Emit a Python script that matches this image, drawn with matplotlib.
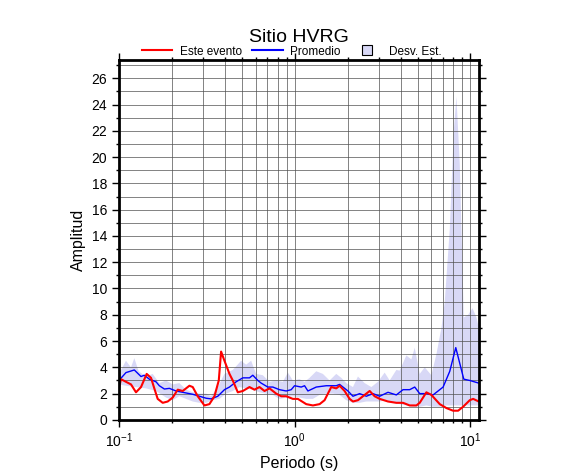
import matplotlib
matplotlib.use("Agg")
import matplotlib.pyplot as plt
from matplotlib.lines import Line2D
from matplotlib.ticker import LogLocator, MultipleLocator, NullFormatter

plt.rcParams['font.family'] = ['Liberation Sans', 'DejaVu Sans']

# Promedio (azul)
t_prom = [0.100, 0.1096, 0.1223, 0.1335, 0.1394, 0.1489, 0.1625, 0.1697, 0.1813, 0.1936,
          0.2112, 0.2306, 0.2517, 0.2629, 0.2870, 0.3132, 0.3344, 0.3650, 0.3984, 0.4254,
          0.4642, 0.5067, 0.5530, 0.5776, 0.6168, 0.6444, 0.7033, 0.7509, 0.8196, 0.8946,
          0.9552, 0.998, 1.089, 1.138, 1.189, 1.326, 1.512, 1.724, 1.801, 1.882,
          2.009, 2.145, 2.341, 2.555, 2.789, 3.044, 3.396, 3.788, 4.133, 4.511,
          4.818, 5.144, 5.614, 6.128, 6.989, 7.626, 8.250, 9.163, 9.913, 11.15]
a_prom = [3.0, 3.6, 3.8, 3.3, 3.4, 3.1, 2.9, 2.6, 2.35, 2.4,
          2.2, 2.1, 2.0, 1.95, 1.8, 1.65, 1.6, 1.8, 2.3, 2.5,
          2.9, 3.2, 3.2, 3.4, 3.0, 2.8, 2.5, 2.5, 2.3, 2.2,
          2.3, 2.6, 2.5, 2.6, 2.2, 2.5, 2.6, 2.6, 2.7, 2.5,
          2.2, 1.8, 2.0, 1.8, 2.0, 1.8, 2.1, 1.9, 2.3, 2.3,
          2.5, 2.0, 2.0, 1.9, 2.5, 3.7, 5.5, 3.1, 3.0, 2.8]

# Este evento (rojo)
t_evento = [0.100, 0.1026, 0.1096, 0.1171, 0.1250, 0.1335, 0.1438, 0.1522, 0.1589, 0.1661,
            0.1774, 0.1894, 0.2022, 0.2160, 0.2306, 0.2517, 0.2629, 0.2807, 0.3064, 0.3271,
            0.3494, 0.3698, 0.3812, 0.3984, 0.4254, 0.4443, 0.4745, 0.5067, 0.5530, 0.5904,
            0.6304, 0.6732, 0.7188, 0.7848, 0.8380, 0.8946, 0.976, 1.042, 1.163, 1.269,
            1.386, 1.479, 1.545, 1.614, 1.724, 1.801, 1.923, 2.053, 2.145, 2.290,
            2.445, 2.670, 2.850, 3.044, 3.396, 3.788, 4.133, 4.511, 4.925, 5.144,
            5.614, 5.995, 6.688, 7.299, 7.965, 8.508, 9.083, 9.913, 10.36, 11.15]
a_evento = [2.4, 3.1, 2.9, 2.7, 2.1, 2.5, 3.5, 3.2, 2.4, 1.6,
            1.3, 1.4, 1.7, 2.3, 2.2, 2.6, 2.5, 1.8, 1.1, 1.2,
            1.8, 3.0, 5.2, 4.5, 3.5, 3.0, 2.1, 2.2, 2.5, 2.3,
            2.5, 2.2, 2.4, 2.0, 1.8, 1.8, 1.6, 1.6, 1.2, 1.1,
            1.2, 1.5, 2.0, 2.5, 2.4, 2.6, 2.2, 1.6, 1.4, 1.5,
            1.8, 2.2, 1.8, 1.6, 1.4, 1.3, 1.3, 1.1, 1.1, 1.3,
            2.1, 1.9, 1.2, 0.9, 0.7, 0.7, 1.0, 1.5, 1.6, 1.4]

# Desviacion estandar: borde superior
t_sup = [0.100, 0.1096, 0.1171, 0.1223, 0.1295, 0.1425, 0.1555, 0.1697, 0.1853, 0.2022,
         0.2207, 0.2409, 0.2629, 0.2870, 0.3132, 0.3344, 0.3650, 0.3984, 0.4443, 0.4957,
         0.5292, 0.5651, 0.6033, 0.6585, 0.7188, 0.7848, 0.8564, 0.9144, 0.976, 1.065,
         1.138, 1.215, 1.326, 1.447, 1.579, 1.724, 1.841, 1.965, 2.145, 2.290,
         2.500, 2.729, 2.978, 3.250, 3.471, 3.788, 3.956, 4.318, 4.611, 4.818,
         5.144, 5.493, 5.995, 6.403, 6.837, 7.142, 7.626, 8.035, 8.322, 8.693,
         9.163, 9.699, 10.27, 10.82, 11.15]
a_sup = [3.5, 4.5, 4.0, 4.7, 3.7, 3.3, 3.5, 2.8, 3.0, 2.7,
         2.8, 2.3, 2.1, 2.0, 2.0, 1.8, 2.5, 3.5, 3.8, 4.5,
         4.2, 4.5, 3.5, 3.4, 2.9, 3.0, 2.9, 3.6, 3.0, 3.1,
         2.9, 3.2, 3.7, 3.5, 3.0, 3.5, 3.2, 2.8, 2.5, 3.3,
         2.8, 2.5, 2.9, 3.6, 3.0, 3.8, 3.75, 4.9, 4.6, 5.5,
         3.5, 4.0, 3.4, 5.0, 7.0, 9.0, 14.5, 22.0, 24.6, 19.5,
         7.8, 8.0, 8.5, 7.8, 7.0]

# Desviacion estandar: borde inferior
t_inf = [0.100, 0.1096, 0.1250, 0.1425, 0.1625, 0.1853, 0.2022, 0.2207, 0.2409, 0.2629,
         0.2870, 0.3132, 0.3418, 0.3730, 0.4072, 0.4443, 0.4850, 0.5292, 0.5776, 0.6304,
         0.6880, 0.7509, 0.8196, 0.8946, 0.976, 1.065, 1.163, 1.269, 1.386, 1.512,
         1.650, 1.801, 1.965, 2.145, 2.341, 2.555, 2.789, 3.044, 3.322, 3.626,
         3.956, 4.318, 4.713, 5.144, 5.614, 6.128, 6.688, 7.299, 7.965, 8.693,
         9.913, 11.15]
a_inf = [2.7, 2.6, 2.5, 2.4, 2.2, 1.7, 1.5, 1.8, 1.6, 1.4,
         1.3, 1.3, 1.5, 1.6, 2.0, 2.2, 2.5, 2.4, 2.3, 2.1,
         2.0, 1.9, 1.6, 1.7, 1.8, 1.7, 1.6, 1.6, 1.9, 2.0,
         2.0, 1.9, 1.5, 1.3, 1.3, 1.4, 1.4, 1.4, 1.5, 1.3,
         1.2, 1.1, 1.0, 1.0, 1.1, 1.0, 1.0, 1.1, 1.1, 1.1,
         1.1, 1.1]

banda = '#d8d8f6'

fig = plt.figure(figsize=(5.86, 4.75), dpi=100)
ax = fig.add_axes([0.203, 0.116, 0.614, 0.758])

ax.fill(t_sup + t_inf[::-1], a_sup + a_inf[::-1], color=banda, lw=0, zorder=1)
ax.plot(t_prom, a_prom, color='#0000ff', lw=1.0, zorder=3)
ax.plot(t_evento, a_evento, color='#ff0000', lw=1.5, zorder=4)

ax.set_xscale('log')
ax.set_xlim(0.1, 11.15)
ax.set_ylim(0, 27.4)

ax.xaxis.set_major_locator(LogLocator(base=10, numticks=10))
ax.xaxis.set_minor_locator(LogLocator(base=10, subs=range(2, 10), numticks=20))
ax.xaxis.set_minor_formatter(NullFormatter())
ax.yaxis.set_major_locator(MultipleLocator(2))
ax.yaxis.set_minor_locator(MultipleLocator(1))

ax.grid(True, which='both', color='#505050', lw=0.5, zorder=2)
ax.set_axisbelow(False)
for sp in ax.spines.values():
    sp.set_linewidth(2)
    sp.set_zorder(5)

ax.tick_params(which='both', direction='out', top=True, right=True, labelsize=10, width=1)
ax.tick_params(which='major', length=5)
ax.tick_params(which='minor', length=2.5)

ax.set_xlabel('Periodo (s)', fontsize=11.5)
ax.set_ylabel('Amplitud', fontsize=11.5)
ax.set_title('Sitio HVRG', fontsize=14, pad=13)

handles = [Line2D([], [], color='#ff0000', lw=1.5),
           Line2D([], [], color='#0000ff', lw=1.5),
           Line2D([], [], ls='none', marker='s', markersize=7,
                  markerfacecolor=banda, markeredgecolor='black', markeredgewidth=0.8)]
ax.legend(handles, ['Este evento', 'Promedio', 'Desv. Est.'], loc='lower center',
          bbox_to_anchor=(0.48, 0.99), ncol=3, frameon=False, fontsize=8.5,
          handlelength=2.6, columnspacing=0.9, handletextpad=0.6, borderpad=0)

fig.savefig('out.png', dpi=100)
